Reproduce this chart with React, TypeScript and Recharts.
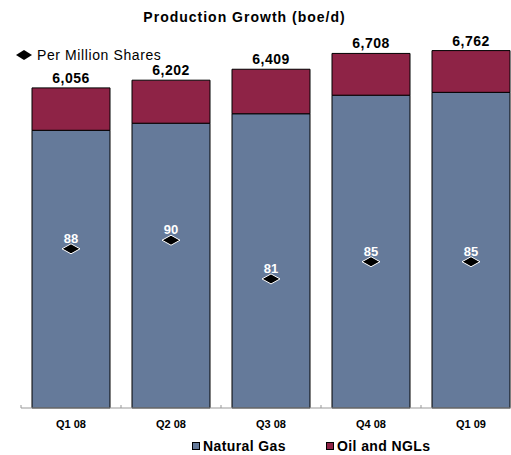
import React from "react";
import {
  ComposedChart,
  Bar,
  Line,
  XAxis,
  YAxis,
  LabelList,
} from "recharts";

const quarters = ["Q1 08", "Q2 08", "Q3 08", "Q4 08", "Q1 09"];
const naturalGas = [5254, 5388, 5567, 5918, 5972];
const oilAndNgls = [802, 814, 842, 790, 790];
const totals = [6056, 6202, 6409, 6708, 6762];
const perMillionShares = [88, 90, 81, 85, 85];

const GAS = "#657a9a";
const OIL = "#8e2346";
const FONT = "Arial, 'Liberation Sans', Helvetica, sans-serif";

const data = quarters.map((q, i) => ({
  quarter: q,
  gas: naturalGas[i],
  oil: oilAndNgls[i],
  total: totals[i],
  perShare: perMillionShares[i],
}));

function Diamond(props: any) {
  const { cx, cy } = props;
  if (cx == null || cy == null) return null;
  return (
    <path
      d={`M${cx - 9},${cy} L${cx},${cy - 5} L${cx + 9},${cy} L${cx},${cy + 5} Z`}
      fill="#000"
      stroke="#fff"
      strokeWidth={1}
    />
  );
}

function QuarterTick(props: any) {
  const { x, y, payload } = props;
  return (
    <g>
      <line x1={x - 50} x2={x - 50} y1={y} y2={y - 3} stroke="#999" />
      <text
        x={x}
        y={y + 20}
        textAnchor="middle"
        fontFamily={FONT}
        fontWeight="bold"
        fontSize={11}
        fill="#000"
      >
        {payload.value}
      </text>
    </g>
  );
}

export default function App() {
  return (
    <div
      style={{
        position: "absolute",
        left: 0,
        top: 0,
        width: 511,
        height: 455,
        overflow: "hidden",
        background: "#fff",
        fontFamily: FONT,
      }}
    >
      <div
        style={{
          position: "absolute",
          top: 9,
          left: 0,
          width: 489,
          textAlign: "center",
          fontWeight: "bold",
          fontSize: 14,
          letterSpacing: 1,
        }}
      >
        Production Growth (boe/d)
      </div>
      <div
        style={{
          position: "absolute",
          top: 47,
          left: 15,
          fontSize: 14,
          letterSpacing: 0.6,
          display: "flex",
          alignItems: "center",
        }}
      >
        <svg width={18} height={12} style={{ marginRight: 4 }}>
          <path d="M1,6 L9,1 L17,6 L9,11 Z" fill="#000" />
        </svg>
        Per Million Shares
      </div>

      <ComposedChart
        width={530}
        height={455}
        data={data}
        margin={{ top: 38, right: 9, bottom: 17, left: 21 }}
      >
        <XAxis
          dataKey="quarter"
          height={30}
          axisLine={{ stroke: "#999" }}
          tickLine={false}
          tickSize={0}
          tickMargin={0}
          interval={0}
          tick={<QuarterTick />}
        />
        <YAxis yAxisId="vol" hide domain={[0, 7000]} />
        <YAxis yAxisId="pm" hide orientation="right" domain={[51, 137]} />
        <Bar
          yAxisId="vol"
          dataKey="gas"
          stackId="a"
          fill={GAS}
          stroke="#000"
          strokeWidth={1}
          barSize={78}
          isAnimationActive={false}
        />
        <Bar
          yAxisId="vol"
          dataKey="oil"
          stackId="a"
          fill={OIL}
          stroke="#000"
          strokeWidth={1}
          barSize={78}
          isAnimationActive={false}
        >
          <LabelList
            dataKey="total"
            position="top"
            offset={5}
            formatter={(v: any) => Number(v).toLocaleString("en-US")}
            style={{
              fontFamily: FONT,
              fontWeight: "bold",
              fontSize: 14,
              fill: "#000",
              letterSpacing: 0.5,
            }}
          />
        </Bar>
        <Line
          yAxisId="pm"
          dataKey="perShare"
          stroke="none"
          dot={<Diamond />}
          activeDot={false}
          isAnimationActive={false}
        >
          <LabelList
            dataKey="perShare"
            position="top"
            offset={6}
            style={{
              fontFamily: FONT,
              fontWeight: "bold",
              fontSize: 13,
              fill: "#fff",
            }}
          />
        </Line>
      </ComposedChart>

      <div
        style={{
          position: "absolute",
          top: 438,
          left: 192,
          fontSize: 14,
          fontWeight: "bold",
          letterSpacing: 0.4,
          display: "flex",
          alignItems: "center",
          whiteSpace: "nowrap",
        }}
      >
        <span
          style={{
            display: "inline-block",
            width: 6,
            height: 6,
            background: GAS,
            border: "1px solid #000",
            marginRight: 3,
          }}
        />
        <span style={{ marginRight: 40 }}>Natural Gas</span>
        <span
          style={{
            display: "inline-block",
            width: 6,
            height: 6,
            background: OIL,
            border: "1px solid #000",
            marginRight: 3,
          }}
        />
        <span>Oil and NGLs</span>
      </div>
    </div>
  );
}
